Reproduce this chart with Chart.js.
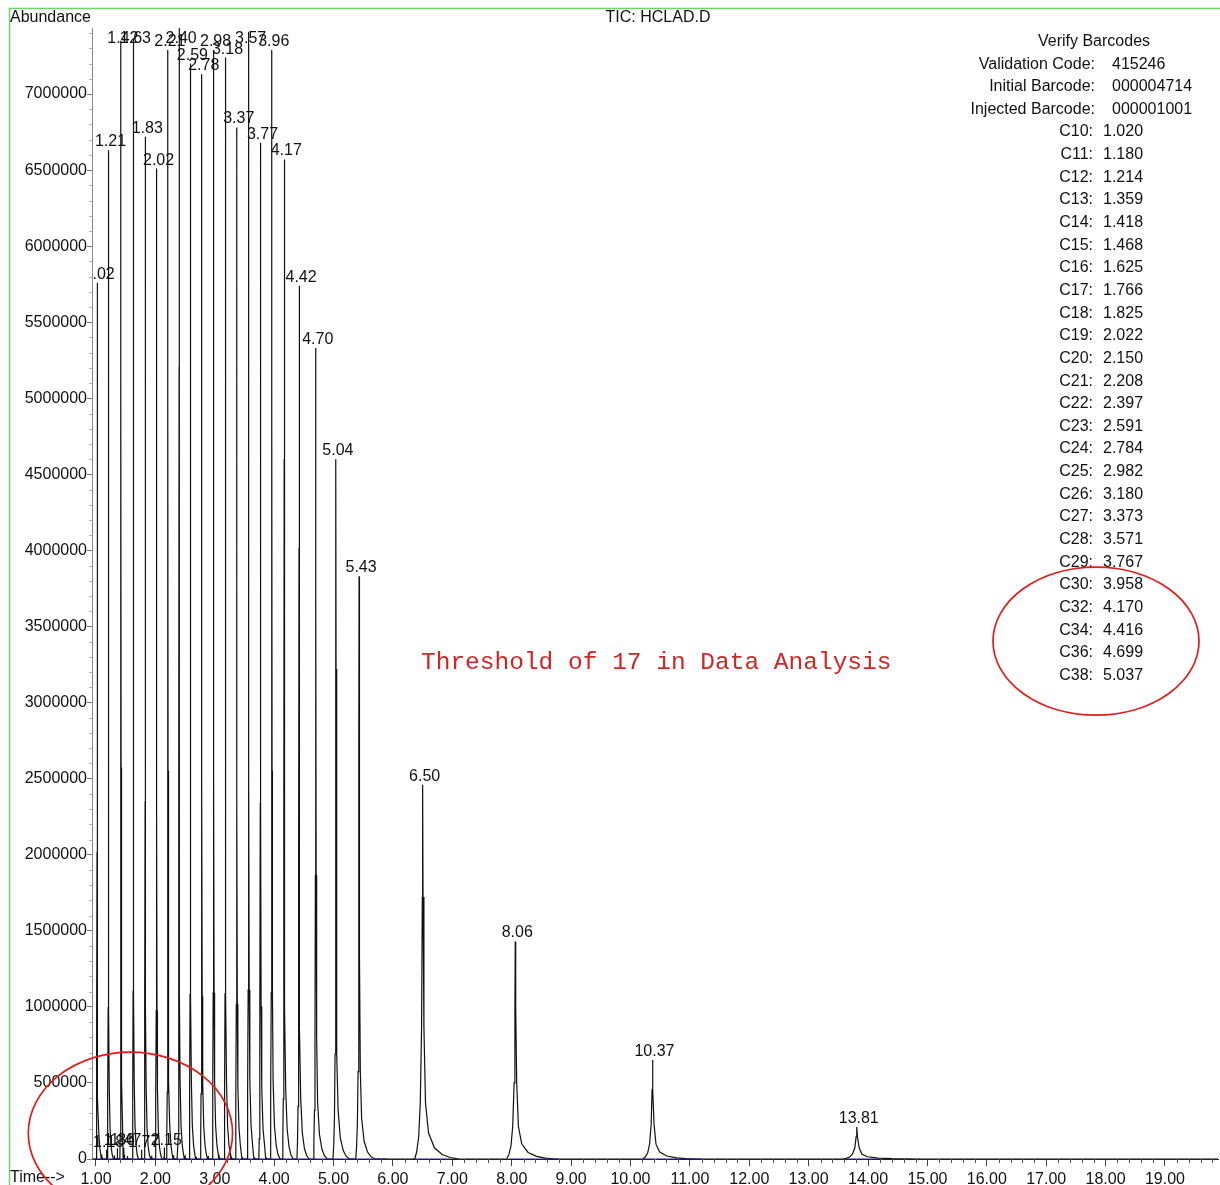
<!DOCTYPE html>
<html>
<head>
<meta charset="utf-8">
<title>TIC: HCLAD.D</title>
<script src="https://cdn.jsdelivr.net/npm/chart.js@4.4.1/dist/chart.umd.min.js"></script>
<style>
  html, body { margin: 0; padding: 0; background: #fff; }
  canvas { display: block; }
</style>
</head>
<body>
<canvas id="tic" width="1220" height="1185"></canvas>
<script>
// ---- Labelled peaks: retention time (min), apex abundance, profile width (min per unit) ----
const peakTimes   = [1.02, 1.21, 1.42, 1.63, 1.83, 2.02, 2.21, 2.40, 2.59, 2.78, 2.98, 3.18, 3.37,
                     3.57, 3.77, 3.96, 4.17, 4.42, 4.70, 5.04, 5.43, 6.50, 8.06, 10.37, 13.81];
const peakHeights = [5760000, 6630000, 7350000, 7360000, 6720000, 6510000, 7290000, 7440000, 7200000,
                     7130000, 7290000, 7240000, 6780000, 7410000, 6680000, 7290000, 6570000, 5740000,
                     5330000, 4600000, 3830000, 2460000, 1430000, 650000, 210000];
const peakWidths  = [0.003, 0.003, 0.003, 0.003, 0.0033, 0.0033, 0.0035, 0.0035, 0.0036, 0.0038,
                     0.0038, 0.004, 0.0042, 0.0045, 0.0047, 0.005, 0.0054, 0.006, 0.007, 0.0082,
                     0.0095, 0.022, 0.024, 0.027, 0.04];

// Small labelled peaks near the baseline
const smallTimes   = [1.18, 1.36, 1.47, 1.77, 2.15];
const smallHeights = [60000, 70000, 75000, 60000, 75000];

// Unlabelled baseline spikes
const noiseTimes   = [1.10, 1.31, 1.53, 1.94, 2.31, 2.50, 2.69, 2.89, 3.08, 3.28, 3.47, 3.67, 3.87];
const noiseHeights = [30000, 25000, 20000, 22000, 25000, 20000, 15000, 20000, 15000, 15000, 12000, 12000, 10000];
const minorWidth = 0.002;

// Tailing peak profile: offsets in width units, fraction of apex height
const profileOffsets   = [-6, -4.5, -3, -1.8, -0.8, -0.25, 0, 0.3, 1, 2.2, 4.5, 9, 15, 21, 28];
const profileFractions = [0, 0.02, 0.06, 0.15, 0.35, 0.7, 1, 0.7, 0.35, 0.15, 0.07, 0.03, 0.012, 0.004, 0];

// Integration baseline segments (min)
const baselineStarts = [0.97, 6.33, 7.95, 10.20, 13.59];
const baselineEnds   = [5.90, 7.04, 8.80, 11.19, 14.26];

// Axis ticks
const timeTicks = [1, 2, 3, 4, 5, 6, 7, 8, 9, 10, 11, 12, 13, 14, 15, 16, 17, 18, 19];
const abundanceTicks = [0, 500000, 1000000, 1500000, 2000000, 2500000, 3000000, 3500000,
                        4000000, 4500000, 5000000, 5500000, 6000000, 6500000, 7000000];
const timeMin = 0.9327, timeMax = 19.893;
const abundanceMax = 7434000;

// Barcode verification panel
const barcodeTitle  = 'Verify Barcodes';
const barcodeLabels = ['Validation Code:', 'Initial Barcode:', 'Injected Barcode:'];
const barcodeValues = ['415246', '000004714', '000001001'];
const alkaneNames = ['C10', 'C11', 'C12', 'C13', 'C14', 'C15', 'C16', 'C17', 'C18', 'C19', 'C20',
                     'C21', 'C22', 'C23', 'C24', 'C25', 'C26', 'C27', 'C28', 'C29', 'C30', 'C32',
                     'C34', 'C36', 'C38'];
const alkaneTimes = ['1.020', '1.180', '1.214', '1.359', '1.418', '1.468', '1.625', '1.766', '1.825',
                     '2.022', '2.150', '2.208', '2.397', '2.591', '2.784', '2.982', '3.180', '3.373',
                     '3.571', '3.767', '3.958', '4.170', '4.416', '4.699', '5.037'];

const FONT = '"Liberation Sans", Arial, Helvetica, sans-serif';

// ---- Build the trace: each peak drawn from the profile, trimmed where the next peak begins ----
const peaks = [];
peakTimes.forEach((t, i) => peaks.push({ t, h: peakHeights[i], s: peakWidths[i] }));
smallTimes.forEach((t, i) => peaks.push({ t, h: smallHeights[i], s: minorWidth }));
noiseTimes.forEach((t, i) => peaks.push({ t, h: noiseHeights[i], s: minorWidth }));
peaks.sort((a, b) => a.t - b.t);

const trace = [{ x: timeMin, y: 0 }];
peaks.forEach((p, i) => {
  const next = peaks[i + 1];
  const nextStart = next ? next.t + profileOffsets[0] * next.s : Infinity;
  profileOffsets.forEach((o, k) => {
    const x = p.t + o * p.s;
    if (x > trace[trace.length - 1].x && x < nextStart) {
      trace.push({ x, y: p.h * profileFractions[k] });
    }
  });
});
trace.push({ x: timeMax, y: 0 });

const baseline = [];
baselineStarts.forEach((s, i) => {
  baseline.push({ x: s, y: 0 }, { x: baselineEnds[i], y: 0 }, { x: baselineEnds[i] + 0.001, y: null });
});

// ---- Decorations: frame, titles, minor ticks, peak labels, barcode panel, annotations ----
const decor = {
  id: 'decor',
  beforeDraw(chart) {
    const { ctx, width, height } = chart;
    ctx.save();
    ctx.fillStyle = '#fff';
    ctx.fillRect(0, 0, width, height);
    ctx.strokeStyle = '#72d072';
    ctx.lineWidth = 1.5;
    ctx.beginPath();
    ctx.moveTo(9.5, height);
    ctx.lineTo(9.5, 8.5);
    ctx.lineTo(width, 8.5);
    ctx.stroke();
    ctx.restore();
  },
  afterDatasetsDraw(chart) {
    const { ctx, chartArea, scales: { x, y } } = chart;
    ctx.save();
    ctx.beginPath();
    ctx.rect(chartArea.left + 1, 0, chartArea.right - chartArea.left, chart.height);
    ctx.clip();
    ctx.font = '16px ' + FONT;
    ctx.fillStyle = '#111';
    ctx.textAlign = 'center';
    ctx.textBaseline = 'alphabetic';
    peakTimes.forEach((t, i) => {
      const px = x.getPixelForValue(t) + 2;
      const top = y.getPixelForValue(peakHeights[i]);
      ctx.fillText(t.toFixed(2), px, Math.max(top - 4, 43));
    });
    smallTimes.forEach((t, i) => {
      const px = x.getPixelForValue(t) + 2;
      const top = y.getPixelForValue(smallHeights[i]);
      ctx.fillText(t.toFixed(2), px, top - 3);
    });
    ctx.restore();
  },
  afterDraw(chart) {
    const { ctx, chartArea, scales: { x, y } } = chart;
    ctx.save();

    // minor ticks, time axis
    ctx.strokeStyle = '#555';
    ctx.lineWidth = 1;
    ctx.beginPath();
    for (let k = 0; ; k++) {
      const v = timeTicks[0] + k * 0.2;
      if (v > timeMax) break;
      if (k % 5 === 0) continue;
      const px = Math.round(x.getPixelForValue(v)) + 0.5;
      ctx.moveTo(px, chartArea.bottom);
      ctx.lineTo(px, chartArea.bottom + 4);
    }
    ctx.stroke();

    // minor ticks, abundance axis
    ctx.strokeStyle = '#b0b0b0';
    ctx.beginPath();
    for (let k = 0; ; k++) {
      const v = k * 100000;
      if (v > abundanceMax) break;
      if (k % 5 === 0) continue;
      const py = Math.round(y.getPixelForValue(v)) + 0.5;
      ctx.moveTo(chartArea.left - 3, py);
      ctx.lineTo(chartArea.left, py);
    }
    ctx.stroke();

    // titles
    ctx.fillStyle = '#111';
    ctx.font = '16px ' + FONT;
    ctx.textBaseline = 'middle';
    ctx.textAlign = 'left';
    ctx.fillText('Abundance', 10, 18);
    ctx.fillText('Time-->', 10, 1178);
    ctx.textAlign = 'center';
    ctx.fillText('TIC: HCLAD.D', 658, 18);

    // barcode panel
    const rowY = i => 41.5 + i * 22.64;
    ctx.fillText(barcodeTitle, 1094, rowY(0));
    barcodeLabels.forEach((lab, i) => {
      ctx.textAlign = 'right';
      ctx.fillText(lab, 1095, rowY(i + 1));
      ctx.textAlign = 'left';
      ctx.fillText(barcodeValues[i], 1112, rowY(i + 1));
    });
    alkaneNames.forEach((name, i) => {
      const r = i + 1 + barcodeLabels.length;
      ctx.textAlign = 'right';
      ctx.fillText(name + ':', 1093, rowY(r));
      ctx.textAlign = 'left';
      ctx.fillText(alkaneTimes[i], 1103, rowY(r));
    });

    // annotation text
    ctx.fillStyle = '#d42424';
    ctx.font = '24.5px "Liberation Mono", "Courier New", monospace';
    ctx.textAlign = 'left';
    ctx.fillText('Threshold of 17 in Data Analysis', 421, 663);

    // red ellipses
    ctx.strokeStyle = '#e31b1b';
    ctx.lineWidth = 1.7;
    const firstRing = alkaneNames.indexOf('C30') + 1 + barcodeLabels.length;
    const lastRing = alkaneNames.indexOf('C38') + 1 + barcodeLabels.length;
    ctx.beginPath();
    ctx.ellipse(1096, (rowY(firstRing) + rowY(lastRing)) / 2 + 11, 103, 74, 0, 0, Math.PI * 2);
    ctx.stroke();
    const cx = x.getPixelForValue(1.58), cy = y.getPixelForValue(170000);
    const rx = x.getPixelForValue(1.58 + 1.72) - cx, ry = cy - y.getPixelForValue(170000 + 532000);
    ctx.beginPath();
    ctx.ellipse(cx, cy, rx, ry, 0, 0, Math.PI * 2);
    ctx.stroke();

    ctx.restore();
  }
};

new Chart(document.getElementById('tic'), {
  type: 'line',
  data: {
    datasets: [
      {
        data: baseline,
        borderColor: '#1f2a78',
        borderWidth: 1.2,
        pointRadius: 0,
        spanGaps: false,
        tension: 0
      },
      {
        data: trace,
        borderColor: '#111',
        borderWidth: 1.2,
        pointRadius: 0,
        tension: 0
      }
    ]
  },
  options: {
    responsive: false,
    animation: false,
    devicePixelRatio: 1,
    parsing: false,
    normalized: true,
    events: [],
    layout: { padding: { left: 0, top: 28, right: 2, bottom: 0 } },
    plugins: { legend: { display: false }, tooltip: { enabled: false }, title: { display: false } },
    scales: {
      x: {
        type: 'linear',
        min: timeMin,
        max: timeMax,
        afterFit(s) { s.height = 26; },
        afterBuildTicks(s) { s.ticks = timeTicks.map(v => ({ value: v })); },
        border: { display: true, color: '#222', width: 1 },
        grid: { drawOnChartArea: false, drawTicks: true, tickLength: 7, color: '#444' },
        ticks: {
          autoSkip: false, maxRotation: 0, padding: 3.5, color: '#111',
          font: { family: FONT, size: 16 },
          callback: v => Number(v).toFixed(2)
        }
      },
      y: {
        type: 'linear',
        min: 0,
        max: abundanceMax,
        afterFit(s) { s.width = 92; },
        afterBuildTicks(s) { s.ticks = abundanceTicks.map(v => ({ value: v })); },
        border: { display: true, color: '#8a8a8a', width: 1 },
        grid: { drawOnChartArea: false, drawTicks: true, tickLength: 5, color: '#777' },
        ticks: {
          padding: 0, color: '#111',
          font: { family: FONT, size: 16 },
          callback: v => String(v)
        }
      }
    }
  },
  plugins: [decor]
});
</script>
</body>
</html>
